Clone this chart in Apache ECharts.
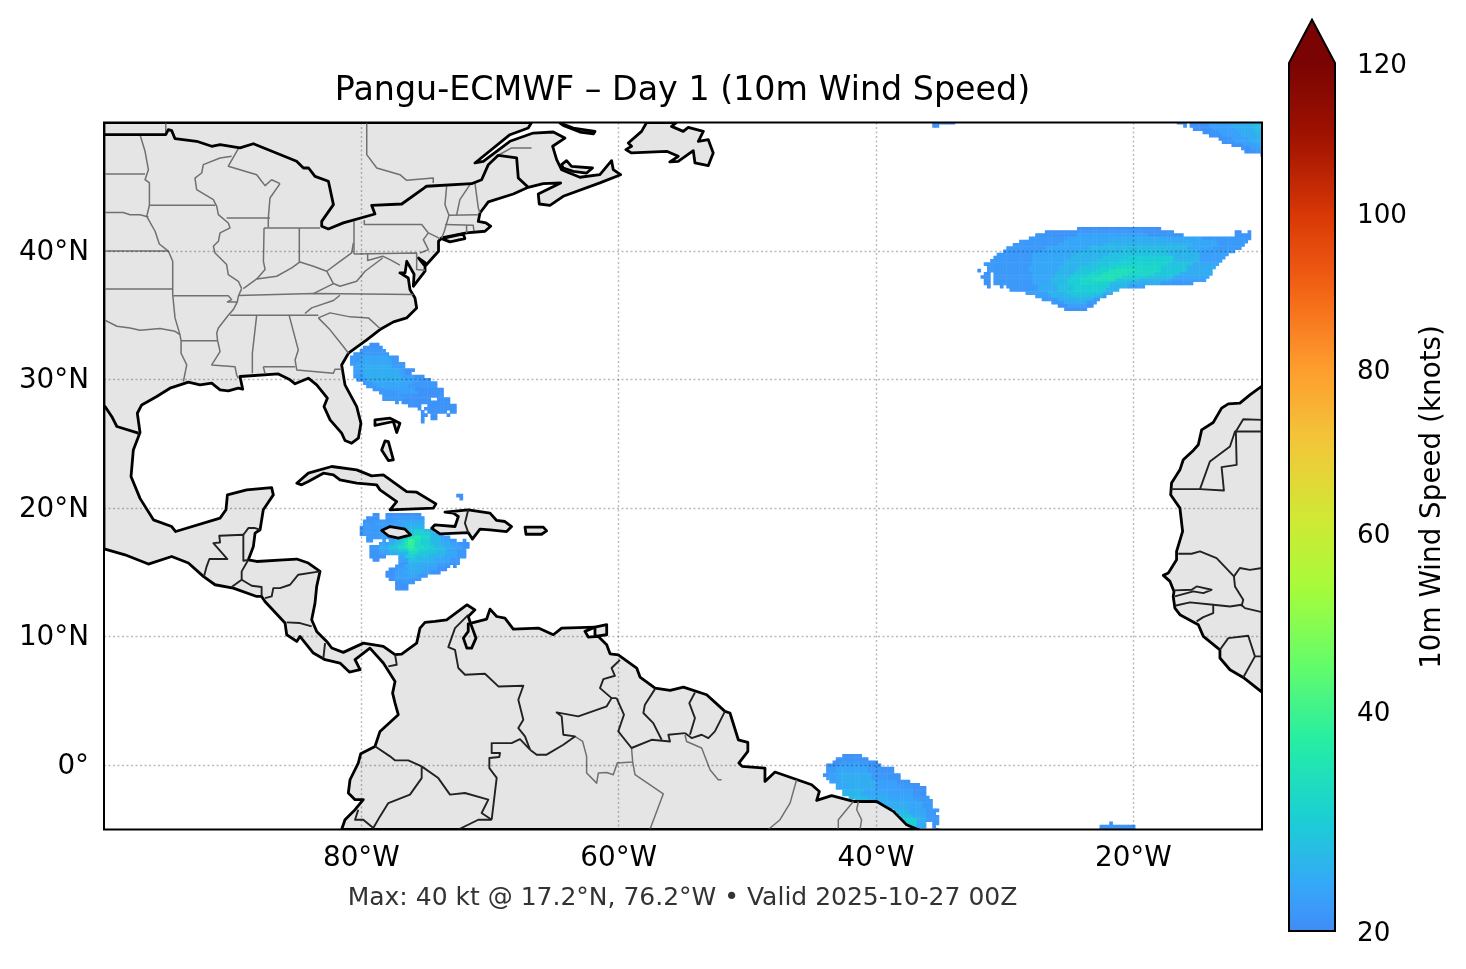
<!DOCTYPE html>
<html>
<head>
<meta charset="utf-8">
<title>Pangu-ECMWF Day 1</title>
<script src="https://cdn.jsdelivr.net/npm/echarts@6/dist/echarts.min.js"></script>
<style>
	html, body { margin: 0; padding: 0; background: #fff; }
	#main { width: 1466px; height: 969px; }
</style>
</head>
<body>
<div id="main"></div>
<script>
// axis ticks
var lonTicks = [-80, -60, -40, -20];
var latTicks = [0, 10, 20, 30, 40];
var colorbarSpeeds = [20, 40, 60, 80, 100, 120];
// where each speed sits along the colorbar, 0 = bottom, 1 = top (the scale is not linear)
var colorbarFractions = [0, 0.2535, 0.4585, 0.6475, 0.827, 1];
var turboPalette = ['#30123b', '#4145ab', '#4675ed', '#39a2fc', '#1bcfd4', '#24eca6', '#61fc6c', '#a4fc3b', '#d1e834', '#f3c63a', '#fe9b2d', '#f36315', '#d93806', '#a11201', '#7a0403'];

// wind rows: [lat, west lon, speed, cell count, speed, cell count, ...], 0.25 deg cells, speed 0 = gap
var atlanticWind = [
	[41.75, -24.25, 21, 26],
	[41.5, -26.75, 21, 10, 22, 20, 21, 10, 0, 19, 21, 2, 0, 2, 21, 1],
	[41.25, -27.5, 21, 13, 23, 22, 21, 11, 0, 16, 21, 5],
	[41, -28, 22, 12, 24, 14, 25, 16, 24, 12, 22, 15],
	[40.75, -28.75, 22, 14, 24, 14, 25, 20, 24, 13, 22, 10],
	[40.5, -29.25, 22, 14, 24, 14, 26, 28, 24, 8, 22, 8],
	[40.25, -29.75, 22, 12, 24, 14, 27, 30, 24, 8, 22, 9],
	[40, -30, 22, 12, 24, 12, 26, 13, 28, 14, 26, 10, 23, 11],
	[39.75, -30.5, 22, 11, 24, 12, 26, 12, 28, 18, 26, 10, 23, 9],
	[39.5, -30.75, 22, 12, 24, 12, 26, 10, 28, 8, 30, 14, 26, 8, 23, 8],
	[39.25, -31, 22, 13, 24, 10, 26, 10, 28, 7, 30, 7, 30, 10, 27, 8, 23, 7],
	[39, -31.5, 22, 15, 24, 10, 26, 8, 28, 6, 30, 6, 31, 12, 28, 8, 24, 8],
	[38.75, -31.25, 22, 13, 24, 9, 26, 7, 28, 6, 30, 5, 32, 14, 29, 8, 25, 9],
	[38.5, -32, 21, 1, 0, 2, 22, 13, 24, 9, 26, 6, 29, 6, 31, 4, 34, 8, 32, 8, 29, 8, 25, 8],
	[38.25, -31.5, 21, 2, 0, 1, 22, 12, 24, 7, 26, 6, 29, 5, 31, 4, 34, 8, 32, 8, 29, 8, 25, 10],
	[38, -31.75, 21, 3, 0, 1, 22, 12, 24, 7, 27, 5, 30, 5, 32, 4, 34, 7, 30, 8, 28, 8, 24, 11],
	[37.75, -31.5, 21, 2, 0, 1, 22, 12, 24, 6, 27, 5, 30, 4, 32, 4, 34, 7, 29, 7, 26, 10, 23, 11],
	[37.5, -31.5, 21, 2, 0, 1, 22, 12, 24, 6, 27, 5, 30, 4, 32, 4, 31, 5, 27, 6, 25, 10, 22, 10],
	[37.25, -31.25, 21, 1, 0, 3, 21, 1, 0, 1, 22, 10, 25, 6, 28, 5, 30, 5, 30, 6, 26, 6, 23, 5],
	[37, -29.5, 22, 9, 25, 6, 28, 5, 30, 10, 26, 4],
	[36.75, -28.25, 23, 7, 26, 6, 29, 11, 25, 3],
	[36.5, -27.5, 23, 5, 26, 6, 28, 7, 26, 3, 22, 1],
	[36.25, -27, 22, 5, 25, 6, 26, 5, 22, 2],
	[36, -26.25, 22, 4, 25, 7, 22, 3],
	[35.75, -25.75, 21, 3, 23, 6, 21, 2],
	[35.5, -25.25, 21, 7]
];
var bahamasWind = [
	[32.75, -79.25, 21, 3],
	[32.5, -79.75, 21, 6],
	[32.25, -80, 22, 8],
	[32, -80.5, 22, 11],
	[31.75, -80.75, 22, 3, 24, 9, 22, 3],
	[31.5, -80.75, 22, 3, 24, 10, 22, 2],
	[31.25, -80.75, 22, 2, 24, 11, 22, 4],
	[31, -80.5, 23, 2, 25, 10, 22, 4],
	[30.75, -80.5, 23, 3, 25, 11, 23, 2, 21, 3],
	[30.5, -80.5, 23, 3, 25, 11, 23, 2, 21, 2],
	[30.25, -80.5, 22, 3, 25, 12, 23, 4, 21, 3],
	[30, -80.25, 22, 3, 25, 12, 23, 5, 21, 3],
	[29.75, -79.75, 22, 3, 24, 12, 22, 8],
	[29.5, -79.5, 22, 3, 24, 10, 22, 9],
	[29.25, -79, 22, 4, 23, 9, 21, 9],
	[29, -78.5, 22, 6, 23, 6, 21, 8],
	[28.75, -78.25, 22, 9, 21, 10],
	[28.5, -78.25, 22, 7, 21, 8, 0, 2, 21, 4],
	[28.25, -77.25, 21, 1, 0, 1, 21, 15],
	[28, -76.25, 21, 4, 0, 2, 21, 9],
	[27.75, -75.5, 21, 1, 0, 1, 21, 10],
	[27.5, -75.25, 21, 1, 0, 1, 21, 6, 0, 1, 21, 2],
	[27.25, -75.25, 21, 2, 0, 1, 21, 2, 0, 3, 21, 1],
	[27, -75.25, 21, 1, 0, 2, 21, 2],
	[26.75, -75.25, 21, 1]
];
var caribbeanWind = [
	[21, -72.5, 21, 2],
	[20.75, -72.25, 21, 1],
	[19.5, -79, 21, 2, 0, 2, 21, 11],
	[19.25, -79.5, 21, 4, 0, 2, 22, 12],
	[19, -79.75, 21, 3, 22, 8, 24, 8],
	[18.75, -79.75, 22, 4, 23, 8, 25, 7],
	[18.5, -80, 21, 1, 22, 8, 23, 5, 26, 6],
	[18.25, -80, 22, 6, 23, 8, 28, 3, 30, 3, 27, 3],
	[18, -80, 21, 1, 22, 5, 23, 8, 27, 3, 31, 3, 30, 2, 26, 2, 23, 2],
	[17.75, -79.5, 22, 4, 23, 4, 25, 3, 28, 2, 33, 2, 36, 2, 32, 3, 27, 3, 23, 3],
	[17.5, -79.5, 22, 2, 0, 3, 23, 1, 0, 1, 24, 2, 27, 2, 31, 1, 34, 1, 39, 2, 34, 2, 30, 3, 27, 3, 24, 3, 22, 2, 0, 2, 21, 1],
	[17.25, -78.5, 23, 3, 25, 2, 28, 2, 32, 1, 35, 1, 40, 1, 38, 1, 33, 2, 30, 3, 27, 3, 25, 3, 23, 3, 21, 3],
	[17, -79.25, 22, 3, 25, 3, 29, 3, 33, 2, 36, 1, 38, 2, 33, 3, 30, 3, 27, 3, 25, 3, 23, 3, 21, 2],
	[16.75, -79.25, 22, 3, 24, 3, 27, 3, 30, 3, 35, 3, 31, 3, 29, 3, 27, 3, 24, 3, 22, 3],
	[16.5, -79.25, 21, 3, 23, 3, 25, 3, 26, 3, 32, 3, 29, 3, 28, 3, 26, 3, 24, 3, 22, 3],
	[16.25, -79.25, 21, 5, 0, 4, 24, 2, 30, 3, 28, 4, 26, 5, 24, 4, 22, 3],
	[16, -79, 21, 2, 0, 6, 23, 3, 28, 3, 26, 5, 24, 5, 22, 3],
	[15.75, -77, 22, 3, 26, 4, 25, 5, 23, 4, 21, 3],
	[15.5, -77.25, 22, 3, 25, 5, 24, 5, 22, 3, 21, 1, 0, 1, 21, 1],
	[15.25, -77.75, 21, 3, 23, 3, 25, 5, 23, 4, 21, 3],
	[15, -78, 21, 3, 23, 3, 25, 5, 23, 3, 21, 3],
	[14.75, -78, 21, 3, 23, 4, 24, 3, 22, 3],
	[14.5, -77.75, 21, 2, 23, 5, 22, 3],
	[14.25, -77.25, 21, 2, 22, 3, 21, 1],
	[14, -77.25, 21, 4],
	[13.75, -77.25, 21, 4]
];
var brazilWind = [
	[0.75, -42.5, 21, 6],
	[0.5, -43, 21, 10],
	[0.25, -43.25, 21, 3, 22, 8, 21, 3],
	[0, -43.75, 21, 4, 23, 9, 21, 4],
	[-0.25, -43.75, 22, 3, 24, 10, 22, 4, 21, 4],
	[-0.5, -43.75, 22, 3, 24, 10, 22, 4, 21, 4],
	[-0.75, -44, 21, 2, 23, 3, 25, 10, 22, 5, 21, 4],
	[-1, -43.75, 23, 3, 25, 11, 22, 5, 21, 4],
	[-1.25, -43.5, 23, 3, 25, 11, 23, 7, 21, 4],
	[-1.5, -43, 24, 4, 25, 9, 23, 6, 22, 4, 21, 3],
	[-1.75, -43, 24, 4, 25, 8, 23, 8, 22, 4, 21, 4],
	[-2, -42.5, 26, 7, 24, 7, 23, 8, 21, 4],
	[-2.25, -42.5, 26, 6, 24, 8, 23, 8, 21, 4],
	[-2.5, -42, 27, 6, 25, 6, 24, 8, 22, 5],
	[-2.75, -41.5, 27, 5, 25, 6, 24, 8, 22, 5],
	[-3, -39.5, 25, 8, 24, 5, 22, 3],
	[-3.25, -39, 25, 7, 24, 4, 22, 3],
	[-3.5, -38.5, 26, 5, 24, 5, 22, 4],
	[-3.75, -38.25, 27, 4, 24, 5, 22, 3],
	[-4, -38, 28, 4, 25, 4, 22, 4],
	[-4.25, -37.75, 30, 4, 25, 3, 22, 4],
	[-4.5, -37.5, 30, 3, 25, 3, 0, 2, 21, 2],
	[-4.75, -37.25, 30, 2, 24, 3, 0, 2, 21, 1],
	[-5, -37, 30, 2, 0, 5, 21, 1],
	[-4.5, -21.75, 21, 1],
	[-4.75, -22.5, 21, 11],
	[-5, -22.5, 21, 11]
];
var northEastWind = [
	[50, -35.5, 21, 7],
	[49.75, -35.5, 21, 2],
	[50, -16.5, 21, 3, 0, 1, 21, 6, 23, 8, 25, 5, 27, 3],
	[49.75, -16, 21, 1, 0, 1, 21, 6, 23, 7, 25, 6, 27, 3],
	[49.5, -15.25, 21, 6, 23, 7, 25, 6, 27, 3],
	[49.25, -14.5, 21, 5, 23, 6, 25, 5, 27, 3],
	[49, -14, 21, 4, 23, 6, 25, 5, 26, 2],
	[48.75, -13.25, 21, 4, 23, 5, 25, 5],
	[48.5, -13, 21, 4, 23, 5, 25, 4],
	[48.25, -12.25, 21, 4, 23, 4, 24, 2],
	[48, -11.5, 21, 3, 23, 4],
	[47.75, -11.25, 21, 3, 22, 3],
	[47.5, -10, 21, 1]
];

// land outlines [lon, lat]
var americas = [
	[-100, 50], [-66.77, 50], [-67.03, 49.57], [-68.45, 49.05], [-71.17, 46.85], [-70.52, 46.98], [-68.45, 48.54], [-66.64, 49.18], [-65.08, 49.26], [-64.18, 48.79], [-65.13, 48.15], [-64.82, 47.11], [-64.44, 46.33], [-63.01, 45.74], [-61.46, 45.94], [-60.55, 47.03], [-60.42, 46.33], [-59.85, 45.94], [-61.46, 45.3], [-64.31, 44.26], [-65.34, 43.56], [-66.17, 43.66], [-66.25, 44.44], [-64.51, 45.3], [-65.86, 45.24], [-67.03, 44.96], [-68.19, 44.44], [-70.13, 43.82], [-70.78, 42.96], [-70.91, 42.3], [-70.32, 42.19], [-69.95, 41.93], [-70.39, 41.54], [-71.82, 41.41], [-73.76, 41.02],
	[-74, 40.76], [-74, 39.98], [-75.05, 38.82], [-75.57, 39.46], [-75.05, 39.1], [-75.05, 38.43], [-75.96, 37.26], [-75.9, 38.2], [-76.47, 39.2], [-76.6, 38.3], [-77, 38.3], [-76.35, 37.9], [-76.22, 37], [-75.83, 36.35], [-75.7, 35.57], [-76.48, 34.8], [-77.5, 34.49], [-78.55, 33.89], [-79.58, 33.09], [-81, 32.05], [-81.53, 31.14], [-81.27, 29.59], [-80.36, 27.9], [-80.03, 26.6], [-80.23, 25.44], [-80.75, 25.05], [-81.27, 25.26], [-81.53, 25.83], [-82.43, 26.87], [-82.9, 27.9], [-82.64, 28.55], [-83.47, 29.59], [-84.12, 30.11], [-85.15, 29.67], [-85.54, 29.98], [-86.45, 30.44], [-89.43, 30.24], [-89.22, 29.25], [-89.56, 29.33], [-90.34, 29.12], [-90.98, 29.2], [-91.63, 29.72], [-92.54, 29.59], [-93.44, 29.8], [-94.87, 29.33], [-95.9, 28.68], [-97.07, 28.03], [-97.41, 27.38], [-97.2, 25.88], [-97.72, 24.53], [-97.9, 22.46], [-97.2, 20.76], [-96.16, 19.09], [-94.74, 18.57], [-94.43, 18.18], [-90.98, 19.22], [-90.52, 19.87], [-90.41, 21.03], [-88.91, 21.42], [-86.97, 21.6], [-86.84, 21.03], [-87.62, 19.87], [-87.87, 18.32],
	[-88.26, 18.06], [-88.39, 17.02], [-88.78, 15.98], [-88.13, 15.85], [-86.06, 15.98], [-85.02, 16.04], [-84.12, 15.73], [-83.21, 15.08], [-83.47, 13.91], [-83.6, 12.61], [-83.86, 11.32], [-83.47, 10.41], [-82.69, 9.63], [-82.3, 9.12], [-81.4, 8.78], [-79.84, 9.5], [-78.29, 9.25], [-77.38, 8.6], [-76.87, 8.65], [-75.7, 9.5], [-75.44, 10.67], [-75.05, 11.11], [-74.28, 11.19], [-73.37, 11.31], [-71.8, 12.48], [-71.17, 12.09], [-71.69, 11.57], [-71.5, 11], [-71.09, 9.89], [-71.43, 9.11], [-71.8, 9.11], [-72.07, 9.89], [-71.69, 10.41], [-71.69, 11], [-70.26, 11.37], [-70, 12.14], [-69.48, 11.57], [-68.84, 11.44], [-68.19, 10.59], [-66.24, 10.67], [-65.08, 10.15], [-64.43, 10.67], [-61.84, 10.74], [-62.62, 10.41], [-62.36, 9.97], [-61.58, 10.02], [-60.93, 9.37], [-60.67, 8.67], [-60.03, 8.59], [-58.6, 7.56], [-58.34, 6.86], [-57.17, 6], [-56, 5.82], [-54.97, 6.08], [-53.16, 5.48], [-51.74, 4.19], [-51.35, 4.06], [-50.7, 1.98], [-49.96, 1.78], [-49.96, 1.08], [-50.66, 0.17], [-50.4, -0.09], [-48.63, -0.22], [-48.63, -1.26], [-47.85, -0.53], [-45, -1.52], [-44.4, -2.04], [-44.61, -2.74], [-43.45, -2.37], [-41.76, -2.82], [-39.95, -2.82], [-38.65, -3.59], [-37.62, -4.63], [-36.84, -4.97], [-36.7, -5],
	[-81.53, -5], [-81.27, -4.24], [-80.49, -3.46], [-79.85, -2.68], [-80.49, -2.68], [-81.01, -2.16], [-80.88, -1.13], [-80.24, 0.17], [-80.05, 0.89], [-78.94, 1.46], [-78.55, 2.63], [-77.13, 3.93], [-77.38, 4.83], [-77.57, 5.61], [-77.38, 6.52], [-78.29, 7.95], [-79.33, 9.11], [-80.49, 8.21], [-80.1, 7.43], [-80.93, 7.25], [-81.66, 7.95], [-82.82, 8.21], [-83.73, 8.73], [-84.77, 10.02], [-85.02, 9.63], [-85.8, 10.15], [-85.93, 11.06], [-87.49, 12.74], [-87.75, 13.13], [-88.13, 13.13], [-89.95, 13.78], [-91.37, 14.04], [-92.28, 14.69], [-93.44, 15.73], [-94.74, 16.24], [-96.55, 15.65], [-98.37, 16.37], [-99.92, 16.81], [-100, 16.8]
];
var westAfrica = [
	[-10, 29.5], [-10.94, 28.81], [-11.72, 28.17], [-12.62, 28.11], [-13.14, 27.78], [-13.79, 26.66], [-14.69, 26.09], [-14.95, 24.93], [-15.34, 24.49], [-16.12, 23.76], [-16.38, 22.98], [-17.03, 21.95], [-17.1, 21.04], [-16.38, 20], [-16.17, 18.19], [-16.64, 16.63], [-16.64, 15.98], [-17.28, 14.95], [-17.67, 14.77], [-17.15, 14.3], [-16.84, 13.52], [-16.9, 13.13], [-16.77, 12.22], [-16.38, 11.71], [-14.95, 10.93], [-14.56, 10.02], [-13.27, 8.98], [-13.27, 8.34], [-12.49, 7.43], [-11.46, 6.83], [-10.08, 5.74], [-10, 5.7]
];
var cuba = [[-85.02, 21.94], [-84.12, 22.72], [-82.3, 23.24], [-80.36, 22.98], [-79.2, 22.51], [-78.29, 22.59], [-76.48, 21.29], [-75.7, 21.24], [-74.2, 20.33], [-74.4, 20], [-77.77, 19.87], [-77.25, 20.51], [-78.55, 21.42], [-78.81, 21.81], [-80.36, 21.94], [-81.66, 22.2], [-82.17, 22.59], [-82.95, 22.72], [-84.12, 22.07], [-84.64, 21.81]];
var hispaniola = [[-73.5, 19.69], [-71.69, 19.87], [-70, 19.61], [-69.48, 19.04], [-68.84, 18.96], [-68.32, 18.57], [-68.71, 18.18], [-70, 18.31], [-70.78, 18.36], [-71.37, 17.59], [-71.69, 18.1], [-73.89, 18], [-74.54, 18.44], [-74.28, 18.7], [-72.72, 18.57], [-72.46, 19.35], [-72.85, 19.61]];
var jamaica = [[-78.42, 18.26], [-77.77, 18.57], [-76.61, 18.36], [-76.17, 17.92], [-77.13, 17.66], [-77.9, 17.85]];
var puertoRico = [[-67.28, 18.52], [-65.86, 18.52], [-65.6, 18.23], [-65.99, 17.97], [-67.2, 17.97]];
var bahamasNorth = [[-78.94, 26.87], [-77.77, 27], [-77, 26.6], [-77.25, 25.88], [-77.51, 26.74], [-78.94, 26.43]];
var bahamasSouth = [[-78.16, 25.23], [-77.9, 25.18], [-77.51, 23.76], [-77.9, 23.7], [-78.42, 24.53]];
var trinidad = [[-61.84, 10.74], [-60.93, 10.93], [-60.93, 10.15], [-61.84, 10.02]];
var longIsland = [[-73.76, 40.97], [-72.08, 41.33], [-71.95, 40.97], [-73.11, 40.71]];
var anticosti = [[-64.56, 49.96], [-63.53, 49.57], [-61.84, 49.31], [-61.97, 49.11], [-63.01, 49.26], [-64.31, 49.78]];
var princeEdward = [[-64.44, 46.72], [-64.05, 47.03], [-63.66, 46.59], [-62.03, 46.46], [-62.49, 46.07], [-63.53, 46.2], [-64.31, 46.46]];
var newfoundland = [[-57.83, 50], [-58.22, 49.31], [-59.25, 48.41], [-59, 48.15], [-59.44, 47.89], [-59, 47.63], [-56.27, 47.76], [-55.37, 47.37], [-56.02, 46.93], [-55.37, 46.98], [-54.2, 47.81], [-54.07, 46.85], [-53.04, 46.64], [-52.65, 47.63], [-53.04, 48.67], [-53.81, 48.54], [-53.42, 49.31], [-54.59, 49.62], [-54.98, 49.31], [-55.89, 49.7], [-55.5, 50]];

// international borders
var usCanada = [[-100, 49.05], [-95.2, 49.05], [-95, 49.44], [-94.74, 49.37], [-94.48, 48.74], [-92.8, 48.54], [-91.63, 48.15], [-90.98, 48.28], [-89.43, 48.02], [-88.39, 48.35], [-85.03, 46.98], [-84.5, 46.46], [-84.1, 46.46], [-83.6, 45.81], [-82.56, 45.43], [-82.17, 43.61], [-83.08, 42.31], [-83.08, 41.93], [-82.56, 41.72], [-81.4, 42.19], [-78.94, 42.88], [-79.2, 43.56], [-76.86, 43.66], [-75.05, 44.96], [-74.93, 45.04], [-71.43, 45.24], [-70.65, 45.55], [-70.13, 46.72], [-69.36, 47.45], [-67.93, 47.24], [-67.8, 45.68], [-67.03, 44.96]];
var usMexico = [[-100, 27.95], [-99.92, 27.9], [-99.4, 27.13], [-99, 26.35], [-97.33, 25.83]];
var countryBorders = [
	[[-92.23, 14.69], [-92.02, 15.47], [-91.81, 16.04], [-90.41, 16.04], [-91.04, 16.76], [-91.5, 17.28], [-90.98, 17.33], [-91.04, 17.85], [-89.17, 17.93], [-89.17, 15.91], [-88.78, 15.98]],
	[[-89.17, 17.93], [-88.78, 18.45], [-88.26, 18.45], [-87.87, 18.32]],
	[[-88.78, 15.98], [-89.3, 15.08], [-89.3, 14.43], [-90.08, 13.86]],
	[[-89.3, 14.43], [-88.52, 13.96], [-87.75, 13.86], [-87.75, 13.13]],
	[[-83.21, 15.08], [-84.9, 14.82], [-85.54, 14.04], [-86.32, 13.78], [-86.84, 13.78], [-86.97, 13.13], [-87.49, 13]],
	[[-85.8, 11.11], [-84.77, 11.06], [-83.86, 10.8]],
	[[-82.82, 9.5], [-82.95, 8.34]],
	[[-77.38, 8.6], [-77.25, 7.82], [-77.9, 7.69]],
	[[-71.69, 19.87], [-71.95, 18.83], [-71.69, 18.1]],
	[[-71.69, 11.7], [-72.72, 10.67], [-73.24, 9.19], [-72.72, 8.98], [-72.46, 7.56], [-71.94, 7.04], [-70.39, 7.12], [-69.35, 6.13], [-67.41, 6.18], [-67.8, 5.09], [-67.41, 3.54], [-67.8, 2.89], [-67.28, 2.24], [-66.89, 1.21]],
	[[-66.89, 1.21], [-67.67, 2.03], [-68.32, 1.72], [-69.87, 1.72], [-69.87, 0.95], [-69.22, 0.95], [-69.28, 0.64], [-70.05, 0.56], [-70.05, -0.22], [-69.48, -0.98], [-69.87, -4.24]],
	[[-66.89, 1.21], [-66.37, 0.82], [-65.6, 0.82], [-64.3, 1.59], [-63.4, 2.24], [-64.3, 2.37], [-64.43, 3.8], [-64.82, 4.11], [-63.14, 3.8], [-60.93, 4.58], [-60.55, 5.22], [-60.16, 5.22]],
	[[-59.9, 8.2], [-60.55, 7.56], [-60.29, 6.96], [-61.19, 6.7], [-61.45, 6], [-60.55, 5.22]],
	[[-60.16, 5.22], [-59.59, 3.93], [-60.03, 2.63], [-59, 1.34], [-57.44, 1.98], [-56.01, 1.85], [-56.14, 2.37], [-54.85, 2.5]],
	[[-57.18, 5.92], [-57.96, 4.71], [-58.08, 4.06], [-57.31, 3.28], [-56.66, 1.98]],
	[[-54.07, 5.66], [-54.51, 4.83], [-54.07, 3.67], [-54.46, 2.37]],
	[[-54.85, 2.5], [-54.33, 2.11], [-53.55, 2.37], [-53.03, 2.11], [-52.52, 2.63], [-51.74, 4.19]],
	[[-78.94, 1.47], [-77.77, 0.69], [-77.39, 0.38], [-76.35, 0.38], [-75.31, -0.09]],
	[[-75.31, -0.09], [-74.02, -1], [-73.11, -2.29], [-71.95, -2.16], [-70.13, -2.68], [-70.65, -3.72], [-69.87, -4.24]],
	[[-75.31, -0.09], [-75.31, -1], [-76.22, -2.29], [-77.9, -2.94], [-78.55, -3.98], [-79.07, -4.89], [-79.85, -4.24], [-80.49, -4.24], [-80.24, -3.46]],
	[[-69.87, -4.24], [-70.91, -4.24], [-72.46, -5]],
	[[-17.1, 21.48], [-14.82, 21.48], [-12.96, 21.37], [-13.14, 23.19], [-11.97, 23.37], [-12.03, 25.96]],
	[[-14.82, 21.48], [-14.05, 23.63], [-12.49, 24.8], [-12.1, 25.96], [-10, 25.96]],
	[[-12.03, 25.96], [-11.46, 26.92], [-10, 26.87]],
	[[-16.51, 16.45], [-15.47, 16.45], [-14.82, 16.63], [-13.53, 16.11], [-12.18, 14.69], [-11.72, 15.34], [-10.94, 15.2], [-10, 15.34]],
	[[-12.18, 14.69], [-12.1, 13.91], [-11.46, 12.87], [-11.59, 12.35]],
	[[-16.84, 13.6], [-15.47, 13.65], [-15.08, 13.91], [-13.92, 13.65], [-14.56, 13.39], [-15.34, 13.52], [-16.77, 13.13]],
	[[-16.77, 12.41], [-15.6, 12.67], [-13.79, 12.48], [-12.49, 12.35], [-11.59, 12.48], [-11.33, 12.22], [-10, 11.91]],
	[[-13.79, 12.48], [-13.79, 11.84], [-14.56, 11.52], [-15.08, 11.19]],
	[[-13.27, 8.98], [-12.62, 9.89], [-11.07, 10.07], [-10.55, 8.47], [-10, 8.47]],
	[[-10.55, 8.47], [-11.46, 6.83]]
];

// state and province lines
var stateLines = [
	[[-100, 46], [-96.81, 46]],
	[[-100, 43], [-98.5, 43], [-97.98, 42.83], [-97.2, 42.83], [-96.55, 42.65]],
	[[-97.2, 49.05], [-96.81, 47.76], [-96.55, 46.33], [-96.81, 45.55], [-96.47, 45.3], [-96.47, 43.56], [-96.68, 42.7], [-96.03, 41.54], [-95.7, 40.55], [-95, 40], [-94.66, 39.2], [-94.66, 36.61], [-94.48, 34.8], [-94.1, 33.5], [-94.01, 33.03], [-94.01, 32.05], [-93.57, 31.14], [-93.83, 29.85]],
	[[-100, 40], [-95, 40]],
	[[-100, 37.05], [-94.66, 37.05]],
	[[-100, 34.67], [-99, 34.15], [-97.98, 34.02], [-97.2, 33.84], [-95.65, 33.97], [-94.48, 33.76], [-94.1, 33.5]],
	[[-96.47, 43.56], [-91.37, 43.56]],
	[[-90.08, 47.37], [-90.98, 47.24], [-92.28, 46.72], [-92.41, 46.07], [-92.93, 45.68], [-92.8, 44.78], [-91.5, 44], [-91.24, 43.48], [-91.11, 42.83], [-90.34, 42.18], [-90.2, 41.8], [-90.98, 41.41], [-91.11, 40.76], [-91.5, 40.37], [-91.37, 39.85], [-90.47, 38.95], [-90.34, 38.17], [-89.56, 37.65], [-89.3, 37.08]],
	[[-94.61, 36.53], [-90.34, 36.53], [-90.08, 36.22], [-90.41, 36.04], [-89.64, 36.04]],
	[[-89.3, 37.08], [-89.56, 36.48], [-89.64, 36.04], [-89.95, 35.45], [-90.34, 35], [-91.11, 34.02], [-91.24, 33.63], [-91.17, 33.03], [-90.98, 32.18], [-91.63, 31.14], [-89.82, 31], [-89.69, 30.37], [-89.56, 30.1]],
	[[-94.01, 33.03], [-91.17, 33.03]],
	[[-90.2, 35], [-83.34, 35]],
	[[-89.56, 36.55], [-83.73, 36.69], [-75.96, 36.61]],
	[[-84.38, 35.14], [-83.86, 35.58], [-82.17, 36.15], [-81.66, 36.56]],
	[[-83.73, 36.69], [-82.17, 37.47]],
	[[-89.17, 37.08], [-88.13, 37.83], [-86.58, 38.04], [-85.41, 38.69], [-84.77, 39.15], [-83.73, 38.82], [-82.69, 38.43], [-81.66, 39.2], [-80.75, 39.85], [-80.62, 40.63]],
	[[-90.47, 42.57], [-87.1, 42.57]],
	[[-87.56, 41.8], [-87.61, 39.2], [-87.48, 38.56], [-88.13, 37.83]],
	[[-87.56, 41.8], [-83.2, 41.8]],
	[[-84.82, 41.8], [-84.82, 39.15]],
	[[-86.32, 45.24], [-87.1, 44.13], [-87.23, 42.57], [-87.23, 41.85]],
	[[-89.56, 47.97], [-90.34, 46.6], [-88.13, 45.94], [-87.75, 45.43], [-87.48, 45.09], [-86.97, 45.55], [-86.32, 45.24]],
	[[-80.57, 42.31], [-80.57, 39.77]],
	[[-79.77, 42.41], [-79.77, 42.06], [-75.31, 42.06], [-74.79, 41.41], [-73.88, 40.97]],
	[[-74.79, 41.41], [-75.18, 40.89], [-74.79, 40.11], [-75.44, 39.85]],
	[[-80.57, 39.77], [-75.7, 39.85], [-75.7, 38.56], [-75.05, 38.5]],
	[[-79.51, 39.77], [-79.51, 39.26], [-78.34, 39.6], [-77.77, 39.33], [-77, 38.9]],
	[[-78.34, 39.46], [-79.71, 38.43], [-80.36, 37.65], [-81.66, 37.26], [-82.17, 37.47], [-82.69, 38.43]],
	[[-83.34, 34.8], [-82.43, 35.19], [-80.88, 34.88], [-79.45, 34.8], [-78.55, 33.97]],
	[[-83.34, 34.8], [-82.43, 33.87], [-81.4, 32.57], [-81, 32.05]],
	[[-88.13, 35.03], [-88.47, 32.05], [-88.47, 30.5]],
	[[-85.62, 35.03], [-84.9, 32.31], [-85.15, 31.53], [-85.02, 30.75], [-82.17, 30.5], [-82.05, 30.8], [-81.53, 30.8]],
	[[-87.62, 31], [-85.15, 31]],
	[[-87.62, 31], [-87.49, 30.5]],
	[[-73.37, 45.04], [-73.5, 43.61], [-73.19, 42.78], [-73.55, 41.54], [-73.76, 41]],
	[[-71.56, 45.17], [-72.34, 44], [-72.6, 42.78]],
	[[-71.17, 45.3], [-70.91, 43.35], [-70.78, 42.96]],
	[[-73.19, 42.78], [-70.91, 42.83]],
	[[-73.5, 42.06], [-71.3, 42], [-71.25, 41.55]],
	[[-71.82, 42], [-71.82, 41.41]],
	[[-95.2, 50], [-95.2, 49.05]],
	[[-79.58, 50], [-79.58, 47.5], [-78.8, 46.46], [-77, 45.94], [-76.48, 45.5], [-74.41, 45.68], [-74.41, 45.3]],
	[[-69.36, 47.45], [-68.32, 48.02], [-66.77, 48.02]],
	[[-63.4, 2.24], [-62.8, 1.85], [-62.49, 0.69], [-62.49, -0.61], [-61.71, -1.39], [-61.58, -0.61], [-60.93, -0.56], [-60.42, -0.74], [-60.11, 0.17], [-58.91, 0.25], [-59, 1.34]],
	[[-58.91, 0.25], [-58.73, -0.74], [-56.53, -2.22], [-57.57, -5]],
	[[-54.85, 2.37], [-54.72, 1.85], [-53.55, 1.34], [-52.9, -0.35], [-52.26, -1.13], [-52, -1.13]],
	[[-46.17, -1.13], [-46.68, -2.95], [-47.46, -4.24], [-48.37, -5]],
	[[-41.76, -2.82], [-42.93, -4.24], [-42.93, -5]],
	[[-41.37, -2.82], [-41.5, -3.46], [-41.12, -4.24], [-41.24, -5]]
];

var landRings = [americas, westAfrica, cuba, hispaniola, jamaica, puertoRico, bahamasNorth, bahamasSouth, trinidad, longIsland, anticosti, princeEdward, newfoundland];
var blackBorders = [usCanada, usMexico];
var windGroups = [atlanticWind, bahamasWind, caribbeanWind, brazilWind, northEastWind];

// expand rows into cells
var windCells = [];
windGroups.forEach(function(rows) {
	rows.forEach(function(row) {
		var lon = row[1];
		for (var i = 2; i < row.length; i += 2) {
			for (var n = 0; n < row[i + 1]; n++) {
				if (row[i] > 0) {
					windCells.push([lon, row[0], row[i]]);
				}
				lon += 0.25;
			}
		}
	});
});

function hexToRgb(hex) {
	return [parseInt(hex.substr(1, 2), 16), parseInt(hex.substr(3, 2), 16), parseInt(hex.substr(5, 2), 16)];
}

// the colorbar only uses the upper part of turbo
function fractionColor(f) {
	var t = (0.18 + 0.82 * f) * (turboPalette.length - 1);
	var i = Math.min(Math.floor(t), turboPalette.length - 2);
	var a = hexToRgb(turboPalette[i]);
	var b = hexToRgb(turboPalette[i + 1]);
	var k = t - i;
	return 'rgb(' + Math.round(a[0] + (b[0] - a[0]) * k) + ',' + Math.round(a[1] + (b[1] - a[1]) * k) + ',' + Math.round(a[2] + (b[2] - a[2]) * k) + ')';
}

function speedColor(s) {
	for (var i = 0; i < colorbarSpeeds.length - 1; i++) {
		if (s <= colorbarSpeeds[i + 1]) {
			var k = (s - colorbarSpeeds[i]) / (colorbarSpeeds[i + 1] - colorbarSpeeds[i]);
			return fractionColor(colorbarFractions[i] + k * (colorbarFractions[i + 1] - colorbarFractions[i]));
		}
	}
	return fractionColor(1);
}

function pathSeries(name, paths, closed, stroke, width, z) {
	return {
		name : name,
		type : 'custom',
		coordinateSystem : 'cartesian2d',
		xAxisIndex : 0,
		yAxisIndex : 0,
		clip : true,
		silent : true,
		z : z,
		data : paths.map(function(p) {
			return p[0];
		}),
		renderItem : function(params, api) {
			var points = paths[params.dataIndex].map(function(p) {
				return api.coord(p);
			});
			return {
				type : closed ? 'polygon' : 'polyline',
				shape : { points : points },
				style : {
					fill : closed ? '#e5e5e5' : null,
					stroke : stroke,
					lineWidth : width,
					lineJoin : 'round'
				}
			};
		}
	};
}

var gradientStops = [];
for (var g = 0; g <= 40; g++) {
	gradientStops.push({ offset : g / 40, color : fractionColor(1 - g / 40) });
}
var colorbarApex = 1.05;

var myChart = echarts.init(document.getElementById('main'));
var fontName = 'DejaVu Sans';

var option = {
	animation : false,
	backgroundColor : '#fff',
	title : [ {
		text : 'Pangu-ECMWF \u2013 Day 1 (10m Wind Speed)',
		left : 677.5,
		top : 70,
		textAlign : 'center',
		textStyle : { fontFamily : fontName, fontSize : 33.3, fontWeight : 'normal', color : '#000' }
	}, {
		text : 'Max: 40 kt @ 17.2\u00b0N, 76.2\u00b0W \u2022 Valid 2025-10-27 00Z',
		left : 677.5,
		top : 881,
		textAlign : 'center',
		textStyle : { fontFamily : fontName, fontSize : 25, fontWeight : 'normal', color : '#333' }
	} ],
	grid : [ {
		left : 104,
		top : 122.5,
		width : 1158,
		height : 707,
		show : true,
		backgroundColor : 'transparent',
		borderColor : '#000',
		borderWidth : 2,
		z : 10
	}, {
		left : 1289,
		top : 63,
		width : 46,
		height : 868
	} ],
	xAxis : [ {
		type : 'value',
		gridIndex : 0,
		min : -100,
		max : -10,
		z : 8,
		axisLine : { show : false },
		axisTick : { show : false, customValues : lonTicks },
		axisLabel : {
			customValues : lonTicks,
			margin : 15,
			fontFamily : fontName,
			fontSize : 27.8,
			color : '#000',
			formatter : function(v) {
				return Math.abs(v) + '\u00b0W';
			}
		},
		splitLine : { show : true, lineStyle : { color : 'rgba(0,0,0,0.27)', width : 1.4, type : [ 2, 2.5 ] } }
	}, {
		type : 'value',
		gridIndex : 1,
		min : 0,
		max : 1,
		show : false
	} ],
	yAxis : [ {
		type : 'value',
		gridIndex : 0,
		min : -5,
		max : 50,
		z : 8,
		axisLine : { show : false },
		axisTick : { show : false, customValues : latTicks },
		axisLabel : {
			customValues : latTicks,
			margin : 15,
			color : '#000',
			formatter : function(v) {
				return '{a|' + (v === 0 ? '0\u00b0' : v + '\u00b0N') + '}';
			},
			rich : { a : { fontFamily : fontName, fontSize : 27.8, color : '#000', padding : [ 3, 0, 0, 0 ] } }
		},
		splitLine : { show : true, lineStyle : { color : 'rgba(0,0,0,0.27)', width : 1.4, type : [ 2, 2.5 ] } }
	}, {
		type : 'value',
		gridIndex : 1,
		position : 'right',
		min : 0,
		max : 1,
		name : '10m Wind Speed (knots)',
		nameLocation : 'middle',
		nameRotate : 90,
		nameGap : 84,
		nameTextStyle : { fontFamily : fontName, fontSize : 27.8, color : '#000' },
		axisLine : { show : false },
		axisTick : { show : true, length : 10, customValues : colorbarFractions, lineStyle : { color : '#000', width : 2 } },
		axisLabel : {
			customValues : colorbarFractions,
			margin : 22,
			color : '#000',
			formatter : function(v) {
				return '{a|' + colorbarSpeeds[colorbarFractions.indexOf(v)] + '}';
			},
			rich : { a : { fontFamily : fontName, fontSize : 26.2, color : '#000', padding : [ 6, 0, 0, 0 ] } }
		},
		splitLine : { show : false }
	} ],
	series : [ {
		name : 'wind',
		type : 'custom',
		coordinateSystem : 'cartesian2d',
		xAxisIndex : 0,
		yAxisIndex : 0,
		clip : true,
		silent : true,
		progressive : 0,
		z : 2,
		data : windCells,
		renderItem : function(params, api) {
			var lon = api.value(0);
			var lat = api.value(1);
			var p = api.coord([ lon - 0.125, lat + 0.125 ]);
			var q = api.coord([ lon + 0.125, lat - 0.125 ]);
			return {
				type : 'rect',
				shape : { x : p[0], y : p[1], width : q[0] - p[0] + 0.5, height : q[1] - p[1] + 0.5 },
				style : { fill : speedColor(api.value(2)) }
			};
		}
	},
	pathSeries('land', landRings, true, '#000', 2.8, 3),
	pathSeries('states', stateLines, false, '#707070', 1.5, 4),
	pathSeries('countries', countryBorders, false, '#222', 1.9, 5),
	pathSeries('us borders', blackBorders, false, '#000', 2.8, 5),
	{
		name : 'colorbar',
		type : 'custom',
		coordinateSystem : 'cartesian2d',
		xAxisIndex : 1,
		yAxisIndex : 1,
		clip : false,
		silent : true,
		z : 3,
		data : [ [ 0, 0 ] ],
		renderItem : function(params, api) {
			var bl = api.coord([ 0, 0 ]);
			var tr = api.coord([ 1, 1 ]);
			var apex = api.coord([ 0.5, colorbarApex ]);
			return {
				type : 'group',
				children : [ {
					type : 'polygon',
					shape : { points : [ [ bl[0], tr[1] + 1 ], apex, [ tr[0], tr[1] + 1 ] ] },
					style : { fill : fractionColor(1) }
				}, {
					type : 'rect',
					shape : { x : bl[0], y : tr[1], width : tr[0] - bl[0], height : bl[1] - tr[1] },
					style : { fill : new echarts.graphic.LinearGradient(0, 0, 0, 1, gradientStops) }
				}, {
					type : 'polygon',
					shape : { points : [ [ bl[0], bl[1] ], [ bl[0], tr[1] ], apex, [ tr[0], tr[1] ], [ tr[0], bl[1] ] ] },
					style : { fill : null, stroke : '#000', lineWidth : 2 }
				} ]
			};
		}
	} ]
};

myChart.setOption(option);
</script>
</body>
</html>
